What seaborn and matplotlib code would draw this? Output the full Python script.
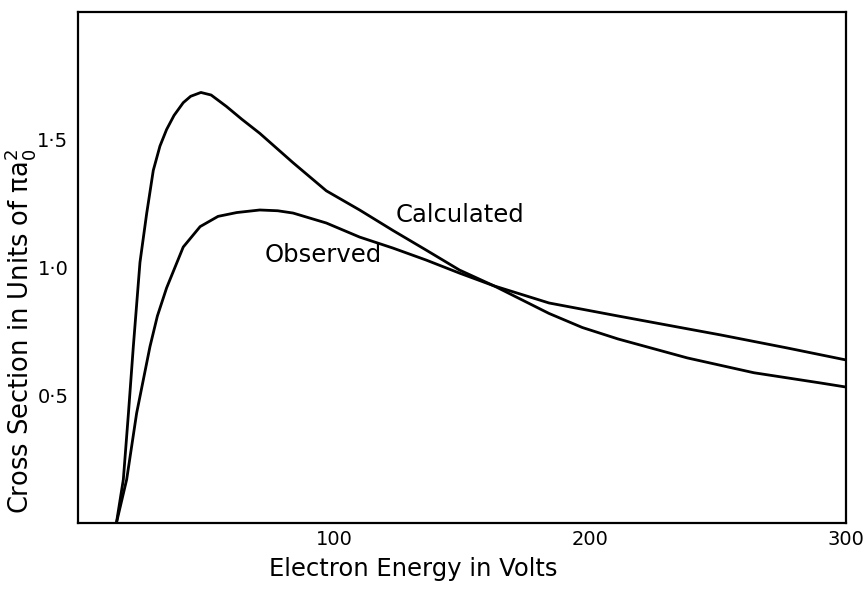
import numpy as np
import pandas as pd
import seaborn as sns
import matplotlib
matplotlib.use("Agg")
import matplotlib.pyplot as plt

# curve values (energy in volts, cross section in units of pi a0^2)
calc_x = [15, 17.7, 19.7, 21.6, 24.2, 26.8, 29.4, 32, 34.6, 37.5, 41.1, 44, 48, 52, 58,
          64, 71, 84, 97, 110, 123, 136, 149, 162.5, 184, 197, 211, 238, 264, 290, 300]
calc_y = [0, 0.17, 0.43, 0.69, 1.02, 1.21, 1.38, 1.475, 1.54, 1.595, 1.645, 1.67, 1.685,
          1.675, 1.63, 1.58, 1.525, 1.41, 1.30, 1.225, 1.145, 1.068, 0.99, 0.928, 0.82,
          0.765, 0.72, 0.646, 0.588, 0.548, 0.532]

obs_x = [15, 19, 22.9, 28.1, 31, 34.6, 41.1, 47.7, 54.7, 62, 71, 78, 84, 97, 110, 123,
         136, 149, 162.5, 184, 211, 238, 251, 277, 300]
obs_y = [0, 0.17, 0.43, 0.69, 0.81, 0.92, 1.08, 1.16, 1.20, 1.215, 1.225, 1.222, 1.213,
         1.174, 1.119, 1.076, 1.029, 0.978, 0.928, 0.861, 0.81, 0.76, 0.736, 0.685, 0.638]

xticks_major = [100, 200, 300]
xticks_minor = [50, 150, 250]
yticks = [0.5, 1.0, 1.5]
ytick_labels = ["0·5", "1·0", "1·5"]

df = pd.concat([
    pd.DataFrame({"energy": calc_x, "cs": calc_y, "curve": "Calculated"}),
    pd.DataFrame({"energy": obs_x, "cs": obs_y, "curve": "Observed"}),
])

sns.set_style("white")
plt.rcParams["font.family"] = ["DejaVu Sans"]
plt.rcParams["mathtext.fontset"] = "dejavusans"
plt.rcParams["text.color"] = "black"
plt.rcParams["axes.labelcolor"] = "black"

fig = plt.figure(figsize=(8.64, 5.90), dpi=100)
ax = fig.add_axes([0.0903, 0.1136, 0.8889, 0.8661])

sns.lineplot(data=df, x="energy", y="cs", units="curve", estimator=None,
             color="black", linewidth=2.0, sort=False, legend=False, ax=ax)

ax.set_xlim(0, 300)
ax.set_ylim(0, 2.0)

ax.set_xticks(xticks_major)
ax.set_xticks(xticks_minor, minor=True)
ax.set_yticks(yticks)
ax.set_yticklabels(ytick_labels)
ax.tick_params(axis="x", which="both", direction="in", length=6, width=1.5,
               labelsize=14, pad=5, colors="black")
ax.tick_params(axis="y", direction="out", length=5, width=1.5, labelsize=14,
               pad=2, colors="black")

for s in ax.spines.values():
    s.set_linewidth(1.6)
    s.set_color("black")

ax.set_xlabel("Electron Energy in Volts", fontsize=17.5)
ax.xaxis.set_label_coords(0.436, -0.066)
ax.set_ylabel(r"Cross Section in Units of $\mathrm{\pi a}_0^2$", fontsize=18.5)
ax.yaxis.set_label_coords(-0.052, 0.375)

ax.text(124, 1.205, "Calculated", fontsize=17.5, ha="left", va="center")
ax.text(73, 1.05, "Observed", fontsize=17.5, ha="left", va="center")

fig.savefig("out.png", dpi=100)
